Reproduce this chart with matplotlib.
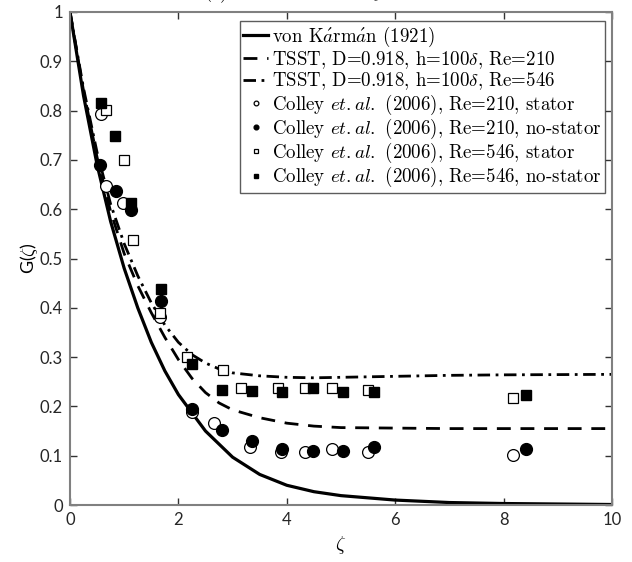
import numpy as np
import matplotlib
matplotlib.use("Agg")
import matplotlib.pyplot as plt

plt.rcParams['mathtext.fontset'] = 'cm'
plt.rcParams['axes.unicode_minus'] = False

# --- curves ---
zeta_vk = [0, 0.25, 0.5, 0.75, 1, 1.25, 1.5, 1.75, 2, 2.5, 3, 3.5, 4, 4.5, 5, 6, 7, 8, 9, 10]
g_vk = [1.0, 0.83, 0.69, 0.575, 0.48, 0.40, 0.33, 0.272, 0.224, 0.15, 0.097, 0.062,
        0.04, 0.027, 0.019, 0.01, 0.005, 0.003, 0.002, 0.001]

zeta_tsst = [0, 0.25, 0.5, 0.75, 1, 1.25, 1.5, 1.75, 2, 2.25, 2.5, 2.75, 3, 3.5, 4, 4.5, 5, 6, 7, 8, 10]
g_tsst_210 = [1.0, 0.84, 0.705, 0.595, 0.51, 0.445, 0.39, 0.34, 0.295, 0.257, 0.228, 0.207,
              0.193, 0.177, 0.166, 0.160, 0.157, 0.156, 0.155, 0.155, 0.155]
g_tsst_546 = [1.0, 0.845, 0.715, 0.61, 0.53, 0.465, 0.41, 0.365, 0.33, 0.305, 0.288, 0.276,
              0.268, 0.262, 0.259, 0.258, 0.259, 0.261, 0.263, 0.264, 0.265]

# --- Colley et al. (2006) measurements ---
z210_st = [0.58, 0.66, 0.98, 1.66, 2.25, 2.66, 3.33, 3.90, 4.34, 4.84, 5.50, 8.18]
g210_st = [0.793, 0.647, 0.613, 0.382, 0.189, 0.166, 0.118, 0.108, 0.107, 0.113, 0.108, 0.101]

z210_ns = [0.56, 0.84, 1.12, 1.68, 2.25, 2.81, 3.36, 3.92, 4.49, 5.04, 5.60, 8.41]
g210_ns = [0.690, 0.636, 0.598, 0.414, 0.194, 0.152, 0.129, 0.113, 0.110, 0.110, 0.117, 0.113]

z546_st = [0.67, 1.00, 1.17, 1.66, 2.16, 2.83, 3.16, 3.84, 4.34, 4.84, 5.50, 8.18]
g546_st = [0.801, 0.699, 0.538, 0.389, 0.301, 0.274, 0.238, 0.238, 0.238, 0.238, 0.233, 0.218]

z546_ns = [0.566, 0.836, 1.12, 1.68, 2.25, 2.81, 3.36, 3.92, 4.49, 5.04, 5.60, 8.41]
g546_ns = [0.815, 0.749, 0.613, 0.438, 0.286, 0.233, 0.231, 0.229, 0.238, 0.230, 0.229, 0.223]

fig = plt.figure(figsize=(6.32, 5.62), dpi=100)
ax = fig.add_axes([70 / 632, 57 / 562, 542 / 632, 493 / 562])

ax.plot(zeta_vk, g_vk, color='k', lw=2.3, ls='-', label=r'von K$\acute{a}$rm$\acute{a}$n (1921)')
ax.plot(zeta_tsst, g_tsst_210, color='k', lw=2.0, dashes=(5, 3.5),
        label=r'TSST, D=0.918, h=100$\delta$, Re=210')
ax.plot(zeta_tsst, g_tsst_546, color='k', lw=2.0, dashes=(4.5, 2, 1, 2),
        label=r'TSST, D=0.918, h=100$\delta$, Re=546')

ax.plot(z210_st, g210_st, ls='none', marker='o', ms=8.5, mfc='white', mec='k', mew=0.9,
        label=r'Colley $et.al.$ (2006), Re=210, stator')
ax.plot(z210_ns, g210_ns, ls='none', marker='o', ms=8.5, mfc='k', mec='k',
        label=r'Colley $et.al.$ (2006), Re=210, no-stator')
ax.plot(z546_st, g546_st, ls='none', marker='s', ms=7, mfc='white', mec='k', mew=0.9,
        label=r'Colley $et.al.$ (2006), Re=546, stator')
ax.plot(z546_ns, g546_ns, ls='none', marker='s', ms=7, mfc='k', mec='k',
        label=r'Colley $et.al.$ (2006), Re=546, no-stator')

ax.set_xlim(0, 10)
ax.set_ylim(0, 1)
ax.set_xticks([0, 2, 4, 6, 8, 10])
ax.set_yticks(np.arange(0, 1.01, 0.1))
ax.set_yticklabels(['0', '0.1', '0.2', '0.3', '0.4', '0.5', '0.6', '0.7', '0.8', '0.9', '1'])
ax.tick_params(direction='in', top=True, right=True, length=5, width=1,
               color='#333333', labelsize=12, labelcolor='#262626', pad=5)
for lab in ax.get_xticklabels() + ax.get_yticklabels():
    lab.set_family('Lato')
for s in ax.spines.values():
    s.set_color('#808080')
    s.set_linewidth(1.5)

ax.set_xlabel(r'$\zeta$', fontsize=14, labelpad=4)
ax.set_ylabel(r'G($\zeta$)', fontsize=13, family='Lato', labelpad=0)

leg = ax.legend(loc='upper right', bbox_to_anchor=(0.987, 0.982), frameon=True, fancybox=False,
                prop={'family': 'cmr10', 'size': 13.6}, handlelength=1.3, handletextpad=0.2,
                borderpad=0.2, labelspacing=0.0, borderaxespad=0, markerscale=0.4)
leg.get_frame().set_edgecolor('#333333')
leg.get_frame().set_linewidth(1.0)

# clipped panel title at the top edge
fig.text(205 / 632, 1 + 1.5 / 562, '(c) Azimuthal velocity', family='cmr10', fontsize=13,
         ha='left', va='baseline')

fig.savefig('out.png', dpi=100)
